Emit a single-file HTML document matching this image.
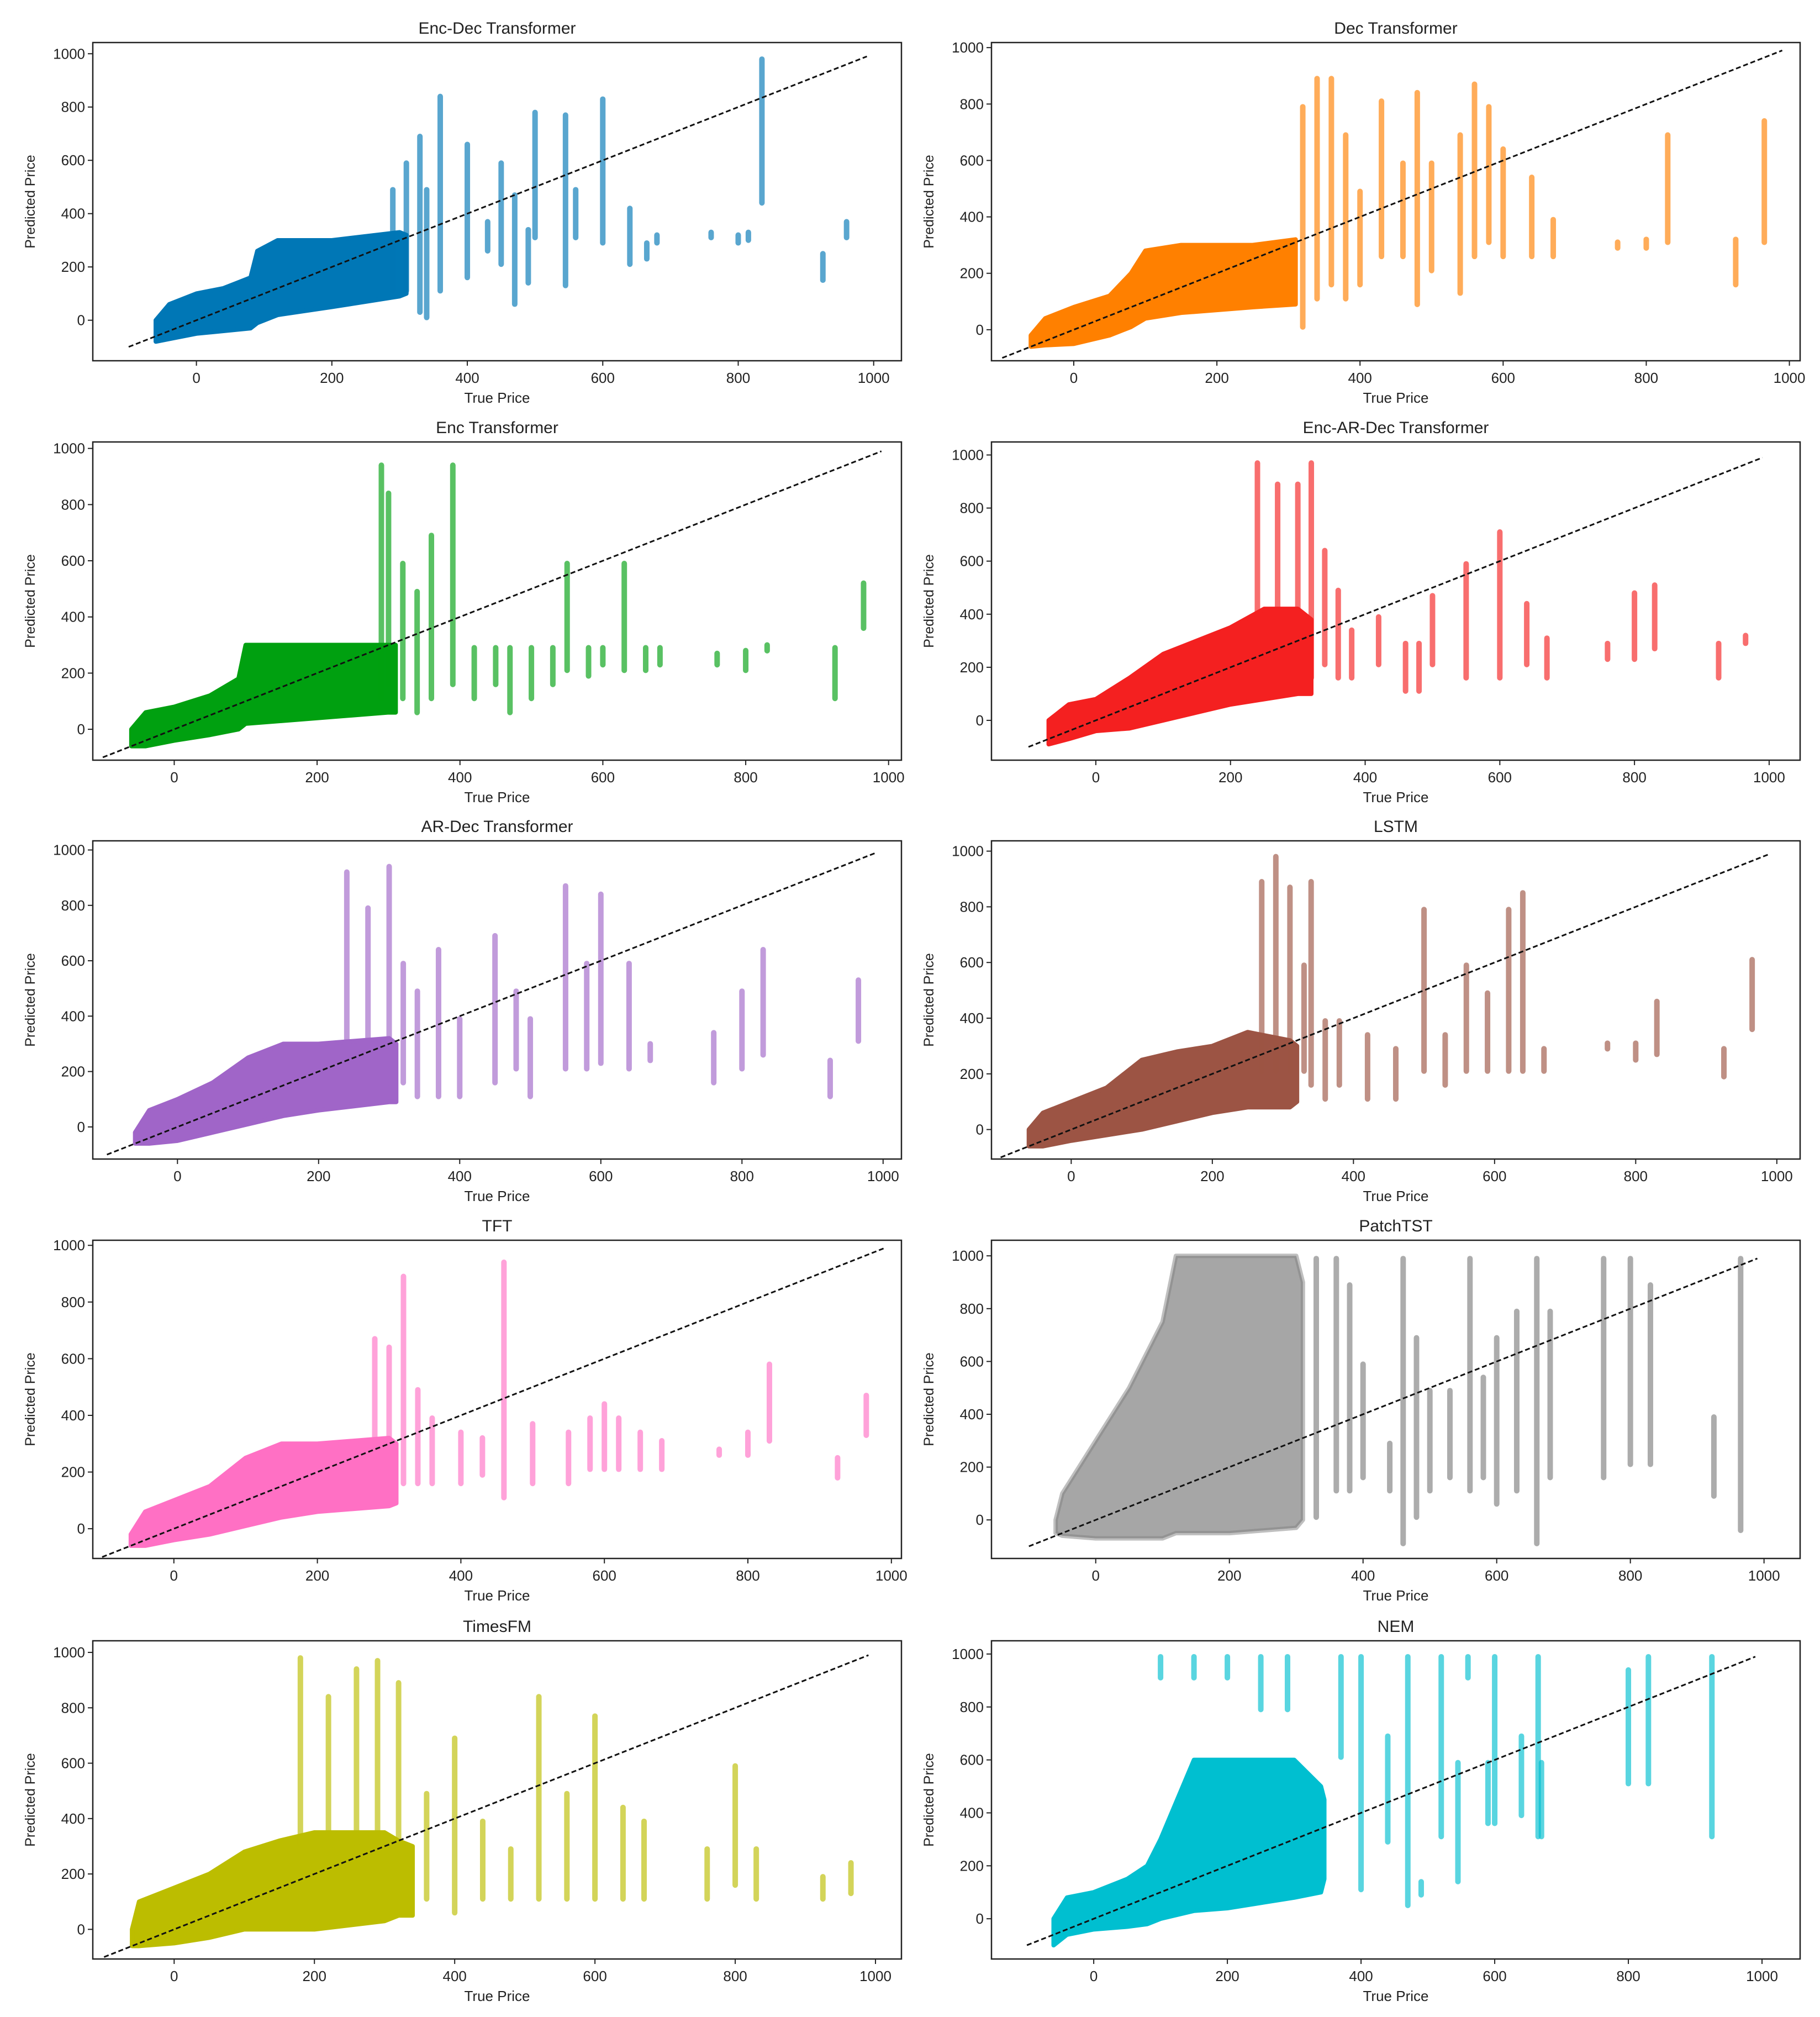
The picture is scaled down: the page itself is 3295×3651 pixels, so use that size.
<!DOCTYPE html>
<html><head><meta charset="utf-8"><style>
html,body{margin:0;padding:0;background:#fff}
svg{display:block}
text{font-family:"Liberation Sans",sans-serif;fill:#222}
</style></head><body>
<svg id="chart" width="3295" height="3651" viewBox="0 0 3295 3651"></svg>
<script>
const titles=["Enc-Dec Transformer","Dec Transformer","Enc Transformer","Enc-AR-Dec Transformer","AR-Dec Transformer","LSTM","TFT","PatchTST","TimesFM","NEM"];
const colors=["#0077b6","#ff8000","#00a010","#f42020","#a065c8","#9c5444","#ff70c4","#808080","#bcbd00","#00bfd0"];
const xTicks=[0,200,400,600,800,1000];
const yTicks=[0,200,400,600,800,1000];
const xLims=[[-153,1041],[-115,1015],[-114,1018],[-155,1046],[-120,1026],[-113,1033],[-113,1014],[-156,1054],[-116,1037],[-153,1057]];
const yLims=[[-152,1042],[-110,1018],[-110,1023],[-150,1049],[-116,1033],[-106,1037],[-105,1018],[-146,1059],[-107,1042],[-152,1050]];
const coreX=[
[-60,-40,0,40,80,90,120,200,300,310],
[-60,-40,0,50,80,100,150,250,310],
[-60,-40,0,50,90,100,200,300,310],
[-70,-40,0,50,100,150,200,250,300,320],
[-60,-40,0,50,100,150,200,300,310],
[-60,-40,0,50,100,150,200,250,310,320],
[-60,-40,0,50,100,150,200,300,310],
[-60,-50,0,50,100,120,200,300,310],
[-60,-50,0,50,100,150,200,300,320,340],
[-60,-40,0,50,80,100,150,200,300,340,345]];
const coreHi=[
[0,60,100,120,160,260,300,300,330,320],
[-20,40,80,120,200,280,300,300,320],
[0,60,80,120,180,300,300,300,300],
[0,60,80,160,250,300,350,420,420,380],
[-20,60,100,160,250,300,300,320,300],
[0,60,100,150,250,280,300,350,320,300],
[-20,60,100,150,250,300,300,320,300],
[0,100,300,500,750,1000,1000,1000,900],
[0,100,150,200,280,320,350,350,320,300],
[0,80,100,150,200,300,600,600,600,500,450]];
const coreLo=[
[-80,-70,-50,-40,-30,-10,20,50,90,100],
[-60,-55,-50,-20,10,40,60,80,90],
[-60,-60,-40,-20,0,20,40,60,60],
[-90,-70,-40,-30,0,30,60,80,100,100],
[-60,-60,-50,-20,10,40,60,90,90],
[-60,-60,-40,-20,0,30,60,80,80,100],
[-60,-60,-40,-20,10,40,60,80,90],
[-50,-60,-70,-70,-70,-50,-50,-30,0],
[-60,-60,-50,-30,0,0,0,30,50,50],
[-100,-60,-40,-30,-20,0,30,40,80,100,150]];
const streaks=[
[[330,20,700],[360,100,850],[400,150,670],[430,250,380],[450,200,600],[470,50,480],[490,130,350],[500,300,790],[545,120,780],[560,300,500],[600,280,840],[640,200,430],[665,220,300],[680,280,330],[760,300,340],[800,280,330],[815,290,340],[835,430,990],[925,140,260],[960,300,380],[340,0,500],[310,100,600],[290,100,500]],
[[320,0,800],[340,100,900],[360,150,900],[380,100,700],[400,150,500],[430,250,820],[460,250,600],[480,80,850],[500,200,600],[540,120,700],[560,250,880],[580,300,800],[600,250,650],[640,250,550],[670,250,400],[760,280,320],[800,280,330],[830,300,700],[925,150,330],[965,300,750]],
[[290,100,950],[300,150,850],[320,100,600],[340,50,500],[360,100,700],[390,150,950],[420,100,300],[450,150,300],[470,50,300],[500,100,300],[530,150,300],[550,200,600],[580,180,300],[600,220,300],[630,200,600],[660,200,300],[680,220,300],[760,220,280],[800,200,290],[830,270,310],[925,100,300],[965,350,530]],
[[240,250,980],[270,200,900],[300,200,900],[320,150,980],[340,200,650],[360,150,500],[380,150,350],[420,200,400],[460,100,300],[480,100,300],[500,200,480],[550,150,600],[600,150,720],[640,200,450],[670,150,320],[760,220,300],[800,220,490],[830,260,520],[925,150,300],[965,280,330]],
[[240,200,930],[270,200,800],[300,150,950],[320,150,600],[340,100,500],[370,100,650],[400,100,400],[450,150,700],[480,200,500],[500,100,400],[550,200,880],[580,200,600],[600,220,850],[640,200,600],[670,230,310],[760,150,350],[800,200,500],[830,250,650],[925,100,250],[965,300,540]],
[[270,200,900],[290,200,990],[310,200,880],[330,200,600],[340,150,900],[360,100,400],[380,150,400],[420,100,350],[460,100,300],[500,200,800],[530,150,350],[560,200,600],[590,200,500],[620,200,800],[640,200,860],[670,200,300],[760,280,320],[800,240,320],[830,260,470],[925,180,300],[965,350,620]],
[[280,200,680],[300,150,650],[320,150,900],[340,150,500],[360,150,400],[400,150,350],[430,180,330],[460,100,950],[500,150,380],[550,150,350],[580,200,400],[600,200,450],[620,200,400],[650,200,350],[680,200,320],[760,250,290],[800,250,350],[830,300,590],[925,170,260],[965,320,480]],
[[330,0,1000],[360,100,1000],[380,100,900],[400,150,600],[440,100,300],[460,-100,1000],[480,0,700],[500,100,500],[530,150,500],[560,100,1000],[580,150,550],[600,50,700],[630,100,800],[660,-100,1000],[680,150,800],[760,150,1000],[800,200,1000],[830,200,900],[925,80,400],[965,-50,1000]],
[[180,300,990],[220,300,850],[260,300,950],[290,300,980],[320,200,900],[360,100,500],[400,50,700],[440,100,400],[480,100,300],[520,100,850],[560,100,500],[600,100,780],[640,100,450],[670,100,400],[760,100,300],[800,150,600],[830,100,300],[925,100,200],[965,120,250]],
[[100,900,1000],[150,900,1000],[200,900,1000],[250,780,1000],[290,780,1000],[370,600,1000],[400,100,1000],[440,280,700],[470,40,1000],[490,80,150],[520,300,1000],[545,130,600],[560,900,1000],[590,350,600],[600,350,1000],[640,380,700],[665,300,1000],[670,300,600],[800,500,950],[830,500,1000],[925,300,1000]]];
const diag=[-100,990];

const NS="http://www.w3.org/2000/svg";
const svg=document.getElementById('chart');
function mk(tag,attrs,parent){const e=document.createElementNS(NS,tag);for(const k in attrs)e.setAttribute(k,attrs[k]);parent.appendChild(e);return e;}
const colL=[168,1795], W=1464, tops=[77,800,1522,2245,2970], H=576;
titles.forEach((t,i)=>{
  const L=colL[i%2], T=tops[Math.floor(i/2)];
  const [x0,x1]=xLims[i],[y0,y1]=yLims[i];
  const sx=v=>L+(v-x0)/(x1-x0)*W, sy=v=>T+H-(v-y0)/(y1-y0)*H;
  const g=mk('g',{},svg);
  
  
  const clipId='c'+i;
  const cp=mk('clipPath',{id:clipId},g);mk('rect',{x:L,y:T,width:W,height:H},cp);
  const plot=mk('g',{'clip-path':'url(#'+clipId+')'},g);
  
  
  const xs=coreX[i],hi=coreHi[i],lo=coreLo[i];
  let pts=xs.map((x,k)=>sx(x)+','+sy(hi[k]));
  for(let k=xs.length-1;k>=0;k--)pts.push(sx(xs[k])+','+sy(lo[k]));
  const core=mk('polygon',{points:pts.join(' '),fill:colors[i],'fill-opacity':i==7?0.7:1,stroke:colors[i],'stroke-opacity':i==7?0.5:1,'stroke-width':8,'stroke-linejoin':'round'},plot);
  
  
  streaks[i].forEach(s=>{
    const r=mk('rect',{x:sx(s[0])-5,y:sy(s[2]),width:10,height:Math.max(10,sy(s[1])-sy(s[2])),rx:5,fill:colors[i],'fill-opacity':0.65},plot);
    
    
  });
  const dl=mk('line',{x1:sx(diag[0]),y1:sy(diag[0]),x2:sx(diag[1]),y2:sy(diag[1]),stroke:'#111','stroke-width':3,'stroke-dasharray':'9,5'},g);
  
  
  const fr=mk('rect',{x:L,y:T,width:W,height:H,fill:'none',stroke:'#222','stroke-width':2.5},g);
  
  
  xTicks.forEach(v=>{const x=sx(v);mk('line',{x1:x,y1:T+H,x2:x,y2:T+H+9,stroke:'#222','stroke-width':2},g);
    const tx=mk('text',{x:x,y:T+H+40,'font-size':26,'text-anchor':'middle'},g);tx.textContent=v;
    
    });
  yTicks.forEach(v=>{const y=sy(v);mk('line',{x1:L,y1:y,x2:L-9,y2:y,stroke:'#222','stroke-width':2},g);
    const tx=mk('text',{x:L-14,y:y+9,'font-size':26,'text-anchor':'end'},g);tx.textContent=v;
    
    });
  const ti=mk('text',{x:L+W/2,y:T-16,'font-size':30,'text-anchor':'middle'},g);ti.textContent=t;
  
  
  const xl=mk('text',{x:L+W/2,y:T+H+76,'font-size':26,'text-anchor':'middle'},g);xl.textContent='True Price';
  
  
  const yl=mk('text',{x:0,y:0,'font-size':25,'text-anchor':'middle',transform:'translate('+(L-105)+','+(T+H/2)+') rotate(-90)'},g);yl.textContent='Predicted Price';
  
  
});
</script>
</body></html>
